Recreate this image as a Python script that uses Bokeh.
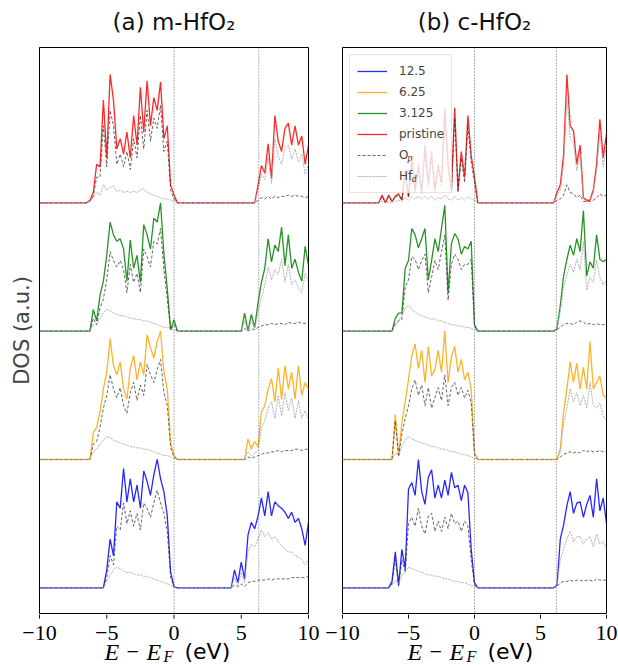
from bokeh.plotting import figure
from bokeh.models import Range1d, Span, Legend, LegendItem, FixedTicker
from bokeh.layouts import row, column
from bokeh.core.properties import value
from bokeh.embed import file_html
from bokeh.resources import INLINE

# ---------------- data ----------------
# energy grids (eV): valence-band part followed by conduction-band part
m_energy = [-6.5, -6.25, -6.0, -5.75, -5.5, -5.25, -5.0, -4.75, -4.5, -4.25, -4.0, -3.75, -3.5, -3.25,
            -3.0, -2.75, -2.5, -2.25, -2.0, -1.75, -1.5, -1.25, -1.0, -0.75, -0.5, -0.25, 0.0, 0.25,
            4.25, 4.5, 4.75, 5.0, 5.25, 5.5, 5.75, 6.0, 6.25, 6.5, 6.75, 7.0, 7.25, 7.5, 7.75, 8.0,
            8.25, 8.5, 8.75, 9.0, 9.25, 9.5, 9.75, 10.0]
c_energy = [-7.25, -7.0, -6.75, -6.5, -6.25, -6.0, -5.75, -5.5, -5.25, -5.0, -4.75, -4.5, -4.25, -4.0,
            -3.75, -3.5, -3.25, -3.0, -2.75, -2.5, -2.25, -2.0, -1.75, -1.5, -1.25, -1.0, -0.75, -0.5,
            -0.25, 0.0, 0.25,
            6.0, 6.25, 6.5, 6.75, 7.0, 7.25, 7.5, 7.75, 8.0, 8.25, 8.5, 8.75, 9.0, 9.25, 9.5, 9.75, 10.0]

# m-HfO2
m_pristine_tot = [0, 0.02, 0.08, 0.30, 0.28, 0.80, 0.35, 1.00, 0.80, 0.42, 0.50, 0.38, 0.55, 0.35, 0.68, 0.45, 0.90, 0.55, 0.95, 0.60, 0.82, 0.72, 0.94, 0.50, 0.60, 0.14, 0.06, 0,
                  0, 0, 0, 0, 0, 0, 0, 0, 0.14, 0.29, 0.23, 0.46, 0.19, 0.68, 0.48, 0.40, 0.58, 0.62, 0.45, 0.60, 0.45, 0.52, 0.30, 0.45]
m_pristine_op = [0, 0.01, 0.05, 0.20, 0.20, 0.60, 0.28, 0.72, 0.60, 0.30, 0.38, 0.28, 0.40, 0.26, 0.50, 0.35, 0.68, 0.42, 0.72, 0.48, 0.66, 0.58, 0.76, 0.40, 0.48, 0.10, 0.03, 0,
                 0, 0, 0, 0, 0, 0, 0, 0, 0.02, 0.04, 0.03, 0.05, 0.03, 0.05, 0.04, 0.05, 0.05, 0.06, 0.05, 0.06, 0.05, 0.05, 0.04, 0.05]
m_pristine_hfd = [0, 0.01, 0.04, 0.08, 0.06, 0.14, 0.10, 0.12, 0.13, 0.09, 0.10, 0.08, 0.09, 0.08, 0.09, 0.08, 0.10, 0.11, 0.08, 0.07, 0.06, 0.05, 0.04, 0.03, 0.03, 0.02, 0.01, 0,
                  0, 0, 0, 0, 0, 0, 0, 0, 0.10, 0.22, 0.18, 0.35, 0.15, 0.50, 0.36, 0.30, 0.42, 0.45, 0.34, 0.42, 0.32, 0.38, 0.22, 0.30]
m_3125_tot = [0, 0, 0.17, 0.08, 0.28, 0.39, 0.59, 0.85, 0.75, 0.70, 0.72, 0.64, 0.39, 0.71, 0.49, 0.59, 0.38, 0.83, 0.75, 0.64, 0.88, 0.85, 1.00, 0.60, 0.33, 0.01, 0.09, 0,
              0, 0, 0, 0, 0.14, 0, 0.13, 0.03, 0.22, 0.38, 0.49, 0.72, 0.54, 0.67, 0.62, 0.81, 0.51, 0.75, 0.49, 0.56, 0.46, 0.39, 0.66, 0.51]
m_3125_op = [0, 0, 0.10, 0.05, 0.18, 0.25, 0.40, 0.62, 0.55, 0.50, 0.55, 0.48, 0.30, 0.52, 0.38, 0.45, 0.30, 0.64, 0.58, 0.50, 0.70, 0.68, 0.80, 0.48, 0.25, 0.01, 0.05, 0,
             0, 0, 0, 0, 0.02, 0, 0.02, 0.01, 0.03, 0.04, 0.05, 0.05, 0.06, 0.05, 0.06, 0.06, 0.05, 0.07, 0.06, 0.06, 0.07, 0.06, 0.06, 0.07]
m_3125_hfd = [0, 0, 0.05, 0.06, 0.10, 0.14, 0.17, 0.16, 0.14, 0.13, 0.12, 0.12, 0.11, 0.10, 0.10, 0.09, 0.09, 0.08, 0.08, 0.07, 0.06, 0.05, 0.04, 0.03, 0.03, 0.02, 0.01, 0,
              0, 0, 0, 0, 0.08, 0, 0.08, 0.02, 0.15, 0.26, 0.35, 0.50, 0.40, 0.48, 0.44, 0.56, 0.38, 0.52, 0.36, 0.40, 0.34, 0.30, 0.45, 0.38]
m_625_tot = [0, 0, 0.21, 0.25, 0.37, 0.55, 0.68, 0.94, 0.73, 0.66, 0.76, 0.55, 0.47, 0.71, 0.81, 0.62, 0.76, 0.66, 0.97, 0.87, 0.79, 0.92, 1.00, 0.68, 0.55, 0.13, 0.03, 0,
             0, 0, 0, 0, 0, 0.16, 0.08, 0.14, 0.10, 0.37, 0.42, 0.55, 0.63, 0.45, 0.71, 0.47, 0.73, 0.55, 0.68, 0.47, 0.73, 0.50, 0.60, 0.55]
m_625_op = [0, 0, 0.12, 0.14, 0.25, 0.40, 0.50, 0.66, 0.55, 0.48, 0.56, 0.42, 0.36, 0.52, 0.60, 0.46, 0.58, 0.50, 0.74, 0.66, 0.60, 0.70, 0.78, 0.52, 0.42, 0.09, 0.02, 0,
            0, 0, 0, 0, 0, 0.02, 0.01, 0.02, 0.03, 0.04, 0.05, 0.05, 0.06, 0.06, 0.07, 0.06, 0.07, 0.07, 0.07, 0.08, 0.08, 0.07, 0.08, 0.08]
m_625_hfd = [0, 0, 0.06, 0.08, 0.12, 0.15, 0.18, 0.17, 0.15, 0.14, 0.13, 0.12, 0.11, 0.10, 0.10, 0.09, 0.09, 0.08, 0.08, 0.07, 0.06, 0.05, 0.04, 0.03, 0.03, 0.02, 0.01, 0,
             0, 0, 0, 0, 0, 0.06, 0.03, 0.05, 0.07, 0.25, 0.30, 0.40, 0.45, 0.32, 0.50, 0.34, 0.52, 0.38, 0.48, 0.32, 0.46, 0.32, 0.38, 0.30]
m_125_tot = [0, 0, 0, 0, 0, 0, 0.14, 0.38, 0.25, 0.67, 0.62, 0.93, 0.67, 0.85, 0.67, 0.80, 0.62, 0.91, 0.83, 0.72, 0.88, 1.00, 0.85, 0.75, 0.56, 0.12, 0.01, 0,
             0, 0.14, 0.04, 0.20, 0.07, 0.41, 0.51, 0.46, 0.56, 0.70, 0.56, 0.75, 0.56, 0.67, 0.64, 0.62, 0.59, 0.54, 0.59, 0.51, 0.54, 0.46, 0.33, 0.51]
m_125_op = [0, 0, 0, 0, 0, 0, 0.08, 0.25, 0.18, 0.48, 0.45, 0.66, 0.50, 0.60, 0.48, 0.58, 0.45, 0.66, 0.62, 0.55, 0.66, 0.76, 0.66, 0.58, 0.44, 0.08, 0.01, 0,
            0, 0.02, 0.01, 0.03, 0.01, 0.04, 0.05, 0.05, 0.06, 0.06, 0.06, 0.07, 0.06, 0.07, 0.07, 0.07, 0.07, 0.07, 0.08, 0.08, 0.08, 0.08, 0.08, 0.09]
m_125_hfd = [0, 0, 0, 0, 0, 0, 0.05, 0.10, 0.14, 0.16, 0.15, 0.13, 0.12, 0.12, 0.11, 0.10, 0.10, 0.09, 0.09, 0.08, 0.07, 0.06, 0.05, 0.04, 0.03, 0.02, 0.01, 0,
             0, 0.08, 0.02, 0.12, 0.04, 0.28, 0.34, 0.32, 0.38, 0.45, 0.40, 0.43, 0.38, 0.40, 0.36, 0.33, 0.30, 0.28, 0.28, 0.25, 0.24, 0.22, 0.18, 0.22]

# c-HfO2
c_pristine_tot = [0, 0.06, 0, 0.06, 0.01, 0.05, 0.07, 0.02, 0.25, 0.05, 0.35, 0.10, 0.30, 0.08, 0.45, 0.15, 0.40, 0.10, 0.30, 0.16, 0.74, 0.30, 0.10, 0.74, 0.10, 0.40, 0.20, 0.68, 0.37, 0.20, 0,
                  0, 0.08, 0.14, 0.37, 1.00, 0.60, 0.56, 0.30, 0.45, 0.04, 0.02, 0.02, 0.10, 0.30, 0.65, 0.35, 0.54]
c_pristine_op = [0, 0.05, 0, 0.05, 0.01, 0.04, 0.06, 0.02, 0.22, 0.04, 0.30, 0.08, 0.26, 0.07, 0.40, 0.12, 0.35, 0.08, 0.26, 0.13, 0.66, 0.26, 0.08, 0.66, 0.08, 0.35, 0.16, 0.60, 0.32, 0.16, 0,
                 0, 0.02, 0.03, 0.06, 0.14, 0.08, 0.07, 0.04, 0.06, 0.01, 0.01, 0.01, 0.02, 0.04, 0.07, 0.05, 0.06]
c_pristine_hfd = [0, 0.01, 0, 0.01, 0, 0.01, 0.02, 0.01, 0.04, 0.02, 0.05, 0.03, 0.05, 0.03, 0.05, 0.03, 0.05, 0.02, 0.04, 0.03, 0.06, 0.03, 0.02, 0.05, 0.02, 0.04, 0.02, 0.05, 0.03, 0.02, 0,
                  0, 0.06, 0.10, 0.30, 0.82, 0.50, 0.47, 0.25, 0.38, 0.03, 0.01, 0.01, 0.08, 0.25, 0.55, 0.28, 0.45]
c_3125_tot = [0, 0, 0, 0, 0, 0.10, 0.14, 0.14, 0.49, 0.55, 0.80, 0.75, 0.65, 0.72, 0.80, 0.40, 0.55, 0.72, 0.62, 0.80, 0.98, 0.30, 0.68, 0.76, 0.72, 0.60, 0.66, 0.64, 0.70, 0.05, 0,
              0, 0.02, 0.20, 0.43, 0.56, 0.67, 0.59, 0.72, 0.62, 0.94, 0.43, 0.54, 0.49, 0.75, 0.56, 0.54, 0.56]
c_3125_op = [0, 0, 0, 0, 0, 0.06, 0.08, 0.09, 0.34, 0.40, 0.58, 0.56, 0.48, 0.55, 0.60, 0.30, 0.42, 0.55, 0.48, 0.62, 0.75, 0.24, 0.52, 0.60, 0.56, 0.48, 0.52, 0.52, 0.56, 0.04, 0,
             0, 0.01, 0.03, 0.05, 0.06, 0.06, 0.05, 0.07, 0.08, 0.07, 0.05, 0.06, 0.05, 0.06, 0.05, 0.05, 0.06]
c_3125_hfd = [0, 0, 0, 0, 0, 0.04, 0.08, 0.12, 0.18, 0.20, 0.17, 0.15, 0.13, 0.12, 0.11, 0.10, 0.09, 0.10, 0.08, 0.08, 0.07, 0.06, 0.05, 0.05, 0.04, 0.04, 0.03, 0.03, 0.02, 0.01, 0,
              0, 0.01, 0.15, 0.34, 0.44, 0.52, 0.46, 0.56, 0.48, 0.70, 0.32, 0.42, 0.38, 0.55, 0.42, 0.36, 0.40]
c_625_tot = [0, 0, 0, 0, 0, 0.35, 0.03, 0.29, 0.45, 0.62, 0.81, 0.90, 0.71, 0.85, 0.60, 0.88, 0.65, 0.70, 0.85, 0.68, 1.00, 0.60, 0.80, 0.88, 0.68, 0.78, 0.62, 0.68, 0.55, 0.05, 0,
             0, 0, 0.08, 0.37, 0.55, 0.76, 0.60, 0.75, 0.55, 0.72, 0.55, 0.92, 0.55, 0.60, 0.65, 0.50, 0.48]
c_625_op = [0, 0, 0, 0, 0, 0.30, 0.02, 0.20, 0.32, 0.42, 0.55, 0.62, 0.50, 0.58, 0.42, 0.56, 0.40, 0.48, 0.56, 0.46, 0.66, 0.42, 0.56, 0.60, 0.50, 0.56, 0.48, 0.54, 0.44, 0.04, 0,
            0, 0, 0.02, 0.04, 0.05, 0.06, 0.05, 0.06, 0.05, 0.07, 0.06, 0.07, 0.06, 0.06, 0.07, 0.06, 0.06]
c_625_hfd = [0, 0, 0, 0, 0, 0.05, 0.03, 0.10, 0.15, 0.18, 0.16, 0.15, 0.14, 0.13, 0.12, 0.11, 0.10, 0.10, 0.09, 0.08, 0.08, 0.07, 0.06, 0.06, 0.05, 0.04, 0.04, 0.03, 0.02, 0.01, 0,
             0, 0, 0.06, 0.28, 0.40, 0.55, 0.45, 0.52, 0.42, 0.50, 0.40, 0.60, 0.42, 0.40, 0.44, 0.34, 0.30]
c_125_tot = [0, 0, 0, 0, 0.05, 0.28, 0.02, 0.30, 0.15, 0.77, 0.82, 0.72, 1.00, 0.75, 0.65, 0.86, 0.92, 0.70, 0.80, 0.70, 0.84, 0.72, 0.90, 0.78, 0.80, 0.68, 0.80, 0.74, 0.30, 0.04, 0,
             0, 0.02, 0.38, 0.49, 0.64, 0.75, 0.58, 0.66, 0.67, 0.55, 0.65, 0.72, 0.55, 0.85, 0.60, 0.70, 0.50]
c_125_op = [0, 0, 0, 0, 0.03, 0.22, 0.01, 0.22, 0.12, 0.50, 0.55, 0.48, 0.62, 0.48, 0.42, 0.56, 0.58, 0.44, 0.52, 0.44, 0.55, 0.46, 0.58, 0.50, 0.52, 0.44, 0.52, 0.48, 0.22, 0.02, 0,
            0, 0.01, 0.04, 0.05, 0.05, 0.06, 0.05, 0.06, 0.06, 0.05, 0.06, 0.06, 0.05, 0.07, 0.06, 0.06, 0.06]
c_125_hfd = [0, 0, 0, 0, 0.02, 0.06, 0.03, 0.10, 0.12, 0.16, 0.15, 0.14, 0.13, 0.12, 0.11, 0.10, 0.10, 0.09, 0.09, 0.08, 0.07, 0.07, 0.06, 0.05, 0.05, 0.04, 0.04, 0.03, 0.02, 0.01, 0,
             0, 0.01, 0.22, 0.30, 0.38, 0.44, 0.36, 0.40, 0.40, 0.34, 0.38, 0.40, 0.32, 0.42, 0.34, 0.36, 0.30]

series_labels = ["12.5", "6.25", "3.125", "pristine"]
m_edges = [0.0, 6.3]    # Fermi level and conduction-band edge (eV)
c_edges = [0.0, 6.2]
x_ticks = [-10, -5, 0, 5, 10]
x_tick_labels = ["−10", "−5", "0", "5", "10"]

# ---------------- styles / layout ----------------
colors = ["#0000ff", "#ffa500", "#008000", "#ff0000"]
TOP_H = 46          # title strip
FRAME_H = 566       # plotting frame
BOT_H = 52          # tick labels + x label strip
MAIN_H = FRAME_H + 2


def sub_legend(text, renderer, vx, vy):
    """A borderless, glyph-less one-item legend used as a subscript."""
    return Legend(items=[LegendItem(label=text, renderers=[renderer])], location=(vx, vy),
                  margin=0, padding=0, spacing=0, glyph_width=0, glyph_height=10,
                  label_height=10, label_standoff=0, label_width=6,
                  label_text_font="Liberation Serif", label_text_font_style="italic",
                  label_text_font_size="10px", label_text_color="#333333",
                  border_line_color=None, background_fill_alpha=0.0)


def strip(width, height, bl, br):
    """Borderless strip whose x scale lines up with the panel frame below/above it."""
    fw = width - bl - br
    k = 20.0 / fw
    q = figure(width=width, height=height, x_range=Range1d(-10 - bl * k, 10 + br * k),
               y_range=Range1d(0, height), output_backend="svg", toolbar_location=None,
               x_axis_type=None, y_axis_type=None, title=None, min_border_left=0,
               min_border_right=0, min_border_top=0, min_border_bottom=0)
    q.outline_line_color = None
    q.grid.visible = False
    q.background_fill_color = "white"
    q.border_fill_color = "white"
    return q, k


def title_strip(text, width, bl, br):
    q, k = strip(width, TOP_H, bl, br)
    q.text(x=[0.0], y=[TOP_H - 21], text=[text], text_font=value("DejaVu Sans"),
           text_font_size="23px", text_baseline="middle", text_align="center",
           text_color="#111111")
    return q


def bottom_strip(width, bl, br):
    q, k = strip(width, BOT_H, bl, br)
    top = BOT_H
    # tick marks and tick labels of the energy axis
    q.segment(x0=x_ticks, y0=[top] * len(x_ticks), x1=x_ticks, y1=[top - 4] * len(x_ticks),
              line_color="black", line_width=1)
    q.text(x=x_ticks, y=[top - 18] * len(x_ticks), text=x_tick_labels,
           text_font=value("Liberation Serif"), text_font_size="22px", text_baseline="middle",
           text_align="center", text_color="black")
    # axis label  E − E_F (eV)
    mid = 15
    parts = [("E", 65, mid, "Liberation Serif", "italic", "24px"),
             ("−", 87, mid, "Liberation Serif", "normal", "22px"),
             ("E", 107, mid, "Liberation Serif", "italic", "24px"),
             ("F", 124, mid - 5, "Liberation Serif", "italic", "16px"),
             ("(eV)", 145, mid, "DejaVu Sans", "normal", "22px")]
    for t, px, y, f, st, sz in parts:
        q.text(x=[-10 + px * k], y=[y], text=[t], text_font=value(f), text_font_style=st,
               text_font_size=sz, text_baseline="middle", text_align="left",
               text_color="black")
    return q


def build(energy, sets, edges, width, bl, br, ylabel, legend):
    p = figure(width=width, height=MAIN_H, x_range=Range1d(-10, 10), y_range=Range1d(-0.2, 4.21),
               output_backend="svg", toolbar_location=None, title=None, min_border_left=bl,
               min_border_right=br, min_border_top=1, min_border_bottom=1)
    p.grid.visible = False
    p.outline_line_color = "black"
    p.outline_line_alpha = 1.0
    p.outline_line_width = 1
    p.background_fill_color = "white"
    p.border_fill_color = "white"
    p.xaxis.visible = False

    xs = [-10.0] + energy
    tot_r, op_r, hf_r = [], [], []
    for i, (tot, op, hf) in enumerate(sets):
        assert len(tot) == len(energy) and len(op) == len(energy) and len(hf) == len(energy)
        off = float(i)
        tot_r.append(p.line(xs, [off] + [off + v for v in tot], line_color=colors[i],
                            line_width=1.3, line_alpha=0.85))
        op_r.append(p.line(xs, [off] + [off + v for v in op], line_color="#333333",
                           line_width=1.0, line_alpha=0.75, line_dash="3 2"))
        hf_r.append(p.line(xs, [off] + [off + v for v in hf], line_color="#aaaaaa",
                           line_width=1.0, line_alpha=0.9, line_dash="2 1"))

    for e in edges:
        p.add_layout(Span(location=e, dimension="height", line_color="#555555",
                          line_dash="1 2", line_width=1, line_alpha=0.9))

    if ylabel:
        p.yaxis.ticker = FixedTicker(ticks=[])
        p.yaxis.major_tick_line_color = None
        p.yaxis.minor_tick_line_color = None
        p.yaxis.axis_label = ylabel
        p.yaxis.axis_label_text_font = "DejaVu Sans"
        p.yaxis.axis_label_text_font_size = "21px"
        p.yaxis.axis_label_text_font_style = "normal"
        p.yaxis.axis_label_standoff = 6
        p.yaxis.axis_line_color = "black"
    else:
        p.yaxis.visible = False

    if legend:
        items = [LegendItem(label=series_labels[k], renderers=[tot_r[k]]) for k in range(4)]
        items.append(LegendItem(label="O", renderers=[op_r[3]]))
        items.append(LegendItem(label="Hf", renderers=[hf_r[3]]))
        lg = Legend(items=items, location="top_left", margin=7, padding=7, spacing=3,
                    label_height=18, glyph_height=18, glyph_width=30, label_standoff=12,
                    label_text_font="DejaVu Sans", label_text_font_size="12px",
                    border_line_color="#cccccc", border_line_width=1,
                    background_fill_color="white", background_fill_alpha=0.8)
        p.add_layout(lg)
        # subscripts of O_p and Hf_d, placed just after the legend labels
        row_o = 7 + 7 + 4 * 21 + 9      # centre of the O row, from frame top
        row_h = 7 + 7 + 5 * 21 + 9
        p.add_layout(sub_legend("p", op_r[3], 56 + 9.6, FRAME_H - row_o - 4 - 5))
        p.add_layout(sub_legend("d", hf_r[3], 56 + 13.4, FRAME_H - row_h - 4 - 5))
    return p


m_sets = [(m_125_tot, m_125_op, m_125_hfd), (m_625_tot, m_625_op, m_625_hfd),
          (m_3125_tot, m_3125_op, m_3125_hfd), (m_pristine_tot, m_pristine_op, m_pristine_hfd)]
c_sets = [(c_125_tot, c_125_op, c_125_hfd), (c_625_tot, c_625_op, c_625_hfd),
          (c_3125_tot, c_3125_op, c_3125_hfd), (c_pristine_tot, c_pristine_op, c_pristine_hfd)]

W1, W2 = 325, 293
B1 = (39, 17)
B2 = (17, 12)
t1 = title_strip("(a) m-HfO₂", W1, *B1)
t2 = title_strip("(b) c-HfO₂", W2, *B2)
p1 = build(m_energy, m_sets, m_edges, W1, *B1, "DOS (a.u.)", False)
p2 = build(c_energy, c_sets, c_edges, W2, *B2, None, True)
s1 = bottom_strip(W1, *B1)
s2 = bottom_strip(W2, *B2)

layout = column(row(t1, t2), row(p1, p2), row(s1, s2))
open("out.html", "w").write(file_html(layout, INLINE))
